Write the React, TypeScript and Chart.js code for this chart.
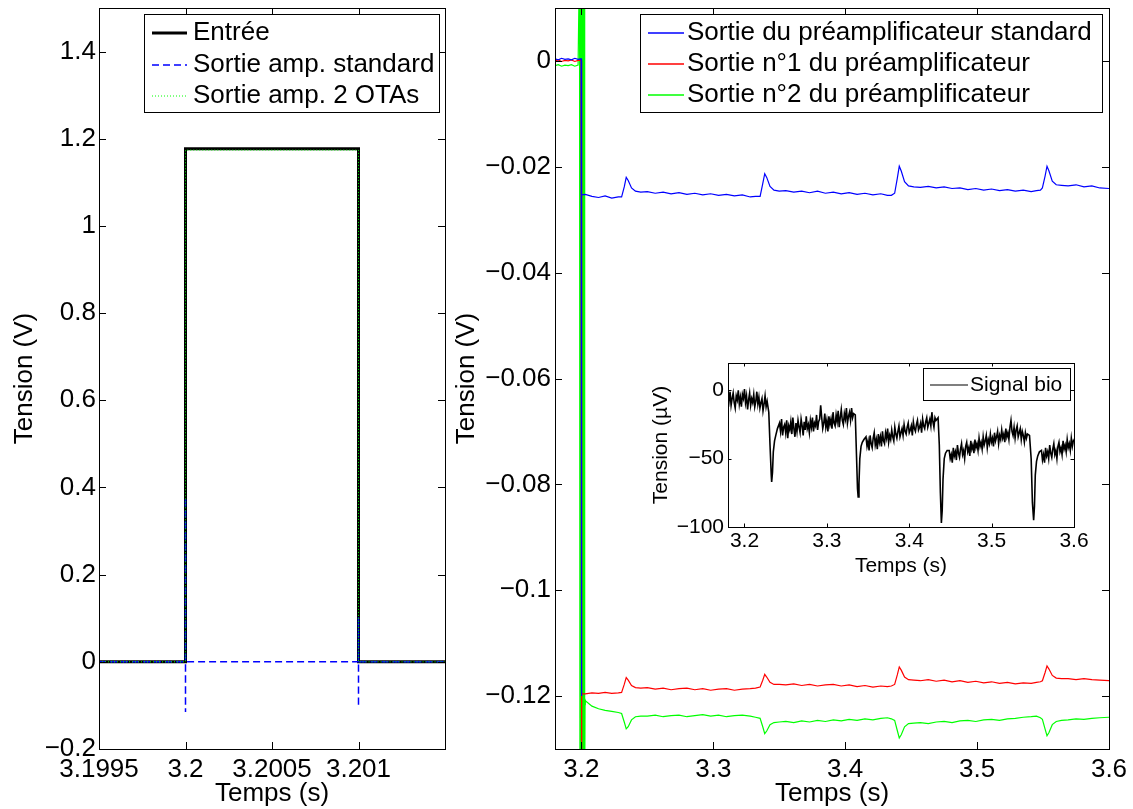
import React, { useEffect, useRef } from "react";
import { Chart, registerables } from "chart.js";

Chart.register(...registerables);

const FONT = "'Liberation Sans', Arial, Helvetica, sans-serif";

// ---------------- Left plot: step input ----------------
const leftXTicks = [3.1995, 3.2, 3.2005, 3.201, 3.2015];
const leftXLabels = ["3.1995", "3.2", "3.2005", "3.201", ""];
const leftYTicks = [-0.2, 0, 0.2, 0.4, 0.6, 0.8, 1, 1.2, 1.4];
const leftYLabels = ["−0.2", "0", "0.2", "0.4", "0.6", "0.8", "1", "1.2", "1.4"];

const entreeT = [3.1995, 3.2, 3.2, 3.201, 3.201, 3.2015];
const entreeV = [0, 0, 1.177, 1.177, 0, 0];
const stdT = [3.1995, 3.2, 3.2, 3.2, 3.2, 3.201, 3.201, 3.201, 3.201, 3.2015];
const stdV = [0, 0, 0.377, -0.115, 0, 0, 0.103, -0.103, 0, 0];
const otaT = [3.1995, 3.2, 3.2, 3.201, 3.201, 3.2015];
const otaV = [0, 0, 1.174, 1.174, 0, 0];

// ---------------- Right plot: preamp outputs ----------------
const rightXTicks = [3.2, 3.3, 3.4, 3.5, 3.6];
const rightXLabels = ["3.2", "3.3", "3.4", "3.5", "3.6"];
const rightYTicks = [-0.12, -0.1, -0.08, -0.06, -0.04, -0.02, 0];
const rightYLabels = ["−0.12", "−0.1", "−0.08", "−0.06", "−0.04", "−0.02", "0"];

const tPre = [3.18, 3.1825, 3.185, 3.1875, 3.19, 3.1925, 3.195, 3.1975];
const bluePre = [0.0004, 0.0002, 0.0005, 0.0003, 0.0004, 0.0002, 0.0005, 0.0003];
const redPre = [0.0, 0.0002, -0.0001, 0.0001, 0.0, 0.0002, -0.0001, 0.0001];
const greenPre = [-0.0009, -0.0007, -0.001, -0.0008, -0.0009, -0.0007, -0.001, -0.0008];

const tBlueJump = [3.1998, 3.2, 3.2003];
const blueJump = [0.0004, -0.12, -0.0253];
const tRedJump = [3.1998, 3.2001, 3.2004];
const redJump = [0.0001, -0.14, -0.1196];
const tGreenJump = [3.1986, 3.1989, 3.1992, 3.1995, 3.1998, 3.2001, 3.2004, 3.2007, 3.201, 3.2013, 3.2016, 3.2019, 3.2022, 3.2025, 3.2028];
const greenJump = [0.02, -0.14, 0.02, -0.14, 0.02, -0.14, 0.02, -0.14, 0.02, -0.14, 0.02, -0.14, 0.02, -0.14, -0.1207];

const tPost = [
  3.203, 3.208, 3.213, 3.218, 3.223, 3.228,
  3.2305, 3.2325, 3.234, 3.2355, 3.238, 3.241, 3.245,
  3.25, 3.256, 3.262, 3.268, 3.274, 3.28, 3.286, 3.292, 3.298, 3.304, 3.31, 3.316, 3.322, 3.328, 3.332,
  3.3355, 3.3375, 3.339, 3.3405, 3.343, 3.346, 3.35,
  3.355, 3.361, 3.367, 3.373, 3.379, 3.385, 3.391, 3.397, 3.403, 3.409, 3.415, 3.421, 3.427, 3.432, 3.435,
  3.4375, 3.4395, 3.441, 3.4425, 3.445, 3.448, 3.452,
  3.457, 3.463, 3.469, 3.475, 3.481, 3.487, 3.493, 3.499, 3.505, 3.511, 3.517, 3.523, 3.529, 3.535, 3.541, 3.545, 3.548,
  3.5495, 3.5515, 3.553, 3.5545, 3.557, 3.56, 3.564,
  3.569, 3.575, 3.581, 3.587, 3.593, 3.6,
];
const bluePost = [
  -0.0252, -0.0256, -0.0258, -0.0255, -0.0259, -0.0257,
  -0.0257, -0.0238, -0.022, -0.0226, -0.024, -0.0246, -0.0248,
  -0.0247, -0.025, -0.0248, -0.0251, -0.0249, -0.0252, -0.025, -0.0253, -0.0251, -0.0254, -0.0252, -0.0255, -0.0253, -0.0257, -0.0256,
  -0.0256, -0.0232, -0.0213, -0.022, -0.0237, -0.0244, -0.0246,
  -0.0245, -0.0248, -0.0246, -0.0249, -0.0246, -0.025, -0.0248, -0.0251, -0.0249, -0.0252, -0.025, -0.0253, -0.0251, -0.0254, -0.0254,
  -0.025, -0.0222, -0.0199, -0.0208, -0.0228, -0.0236, -0.0238,
  -0.0239, -0.0237, -0.024, -0.0238, -0.0241, -0.024, -0.0243, -0.0241, -0.0244, -0.0242, -0.0245, -0.0243, -0.0246, -0.0244, -0.0247, -0.0245, -0.0244,
  -0.024, -0.0218, -0.0199, -0.0208, -0.0227, -0.0234, -0.0235,
  -0.0236, -0.0234, -0.0238, -0.0236, -0.024, -0.0241,
];
const redPost = [
  -0.1196, -0.1194, -0.1195, -0.1193, -0.1195, -0.1194,
  -0.1193, -0.1178, -0.1165, -0.117, -0.118, -0.1184, -0.1185,
  -0.1184, -0.1187, -0.1185, -0.1188, -0.1186, -0.1185, -0.1188, -0.1186, -0.1189, -0.1187, -0.1186, -0.1189, -0.1187, -0.1186, -0.1185,
  -0.1183, -0.117, -0.1159, -0.1164, -0.1174, -0.1178, -0.1178,
  -0.1179, -0.1177, -0.118, -0.1178, -0.1181, -0.1179, -0.1178, -0.1181, -0.1179, -0.1182, -0.118, -0.1183, -0.1181, -0.1182, -0.1181,
  -0.1178, -0.116, -0.1145, -0.1151, -0.1164, -0.1169, -0.117,
  -0.1171, -0.1169, -0.1172, -0.117, -0.1173, -0.1171, -0.1174, -0.1172, -0.1175, -0.1173, -0.1176, -0.1174, -0.1177, -0.1175, -0.1176, -0.1174, -0.1173,
  -0.1171, -0.1156, -0.1143, -0.1149, -0.1161, -0.1166, -0.1167,
  -0.1167, -0.1169, -0.1167, -0.1169, -0.117, -0.1171,
];
const greenPost = [
  -0.1209, -0.1219, -0.1224, -0.1227, -0.1229, -0.1231,
  -0.1233, -0.1249, -0.1262, -0.1258, -0.1245, -0.1239, -0.1238,
  -0.1238, -0.1236, -0.1239, -0.1237, -0.1236, -0.1239, -0.1237, -0.1235, -0.1238, -0.1236, -0.1239, -0.1237, -0.1236, -0.1238, -0.124,
  -0.1242, -0.1258, -0.1271, -0.1266, -0.1254, -0.125, -0.1249,
  -0.1248, -0.125, -0.1247, -0.1249, -0.1246, -0.1248, -0.1245, -0.1247, -0.1244, -0.1246, -0.1243, -0.1245, -0.1242, -0.1241, -0.1243,
  -0.1246, -0.1265, -0.1279, -0.1273, -0.1258, -0.1252, -0.1251,
  -0.125, -0.1252, -0.1249, -0.1248, -0.125, -0.1247, -0.1246, -0.1248, -0.1245, -0.1244, -0.1246, -0.1243, -0.1242, -0.124, -0.1239, -0.1238, -0.1241,
  -0.1244, -0.1262, -0.1275, -0.1269, -0.1254, -0.1248, -0.1246,
  -0.1245, -0.1243, -0.1244, -0.1242, -0.1241, -0.124,
];

// ---------------- Inset: biological signal (µV) ----------------
const insetYTicks = [-100, -50, 0];
const insetYLabels = ["−100", "−50", "0"];
const bioTime = [
  3.18, 3.18125, 3.1825, 3.18375, 3.185, 3.18625, 3.1875, 3.18875, 3.19, 3.19125, 3.1925, 3.19375, 3.195, 3.19625, 3.1975, 3.19875, 3.2, 3.20125, 3.2025, 3.20375,
  3.205, 3.20625, 3.2075, 3.20875, 3.21, 3.21125, 3.2125, 3.21375, 3.215, 3.21625, 3.2175, 3.21875, 3.22, 3.22125, 3.2225, 3.22375, 3.225, 3.22625, 3.2275,
  3.2295, 3.231, 3.2325, 3.233, 3.234, 3.235, 3.2365, 3.238, 3.24,
  3.2425, 3.24375, 3.245, 3.24625, 3.2475, 3.24875, 3.25, 3.25125, 3.2525, 3.25375, 3.255, 3.25625, 3.2575, 3.25875, 3.26, 3.26125, 3.2625, 3.26375, 3.265, 3.26625,
  3.2675, 3.26875, 3.27, 3.27125, 3.2725, 3.27375, 3.275, 3.27625, 3.2775, 3.27875, 3.28, 3.28125, 3.2825, 3.28375, 3.285, 3.28625, 3.2875, 3.28875, 3.29, 3.29125,
  3.2925, 3.29375, 3.295, 3.29625, 3.2975, 3.29875, 3.3, 3.30125, 3.3025, 3.30375, 3.305, 3.30625, 3.3075, 3.30875, 3.31, 3.31125, 3.3125, 3.31375, 3.315, 3.31625,
  3.3175, 3.31875, 3.32, 3.32125, 3.3225, 3.32375, 3.325, 3.32625, 3.3275, 3.32875, 3.33, 3.33125, 3.3325,
  3.3345, 3.336, 3.3372, 3.338, 3.339, 3.34, 3.3415, 3.343, 3.345,
  3.3475, 3.34875, 3.35, 3.35125, 3.3525, 3.35375, 3.355, 3.35625, 3.3575, 3.35875, 3.36, 3.36125, 3.3625, 3.36375, 3.365, 3.36625, 3.3675, 3.36875, 3.37, 3.37125,
  3.3725, 3.37375, 3.375, 3.37625, 3.3775, 3.37875, 3.38, 3.38125, 3.3825, 3.38375, 3.385, 3.38625, 3.3875, 3.38875, 3.39, 3.39125, 3.3925, 3.39375, 3.395, 3.39625,
  3.3975, 3.39875, 3.4, 3.40125, 3.4025, 3.40375, 3.405, 3.40625, 3.4075, 3.40875, 3.41, 3.41125, 3.4125, 3.41375, 3.415, 3.41625, 3.4175, 3.41875, 3.42, 3.42125,
  3.4225, 3.42375, 3.425, 3.42625, 3.4275, 3.42875, 3.43, 3.43125, 3.4325,
  3.435, 3.4365, 3.4378, 3.439, 3.44, 3.441, 3.4425, 3.444, 3.446,
  3.4485, 3.44975, 3.451, 3.45225, 3.4535, 3.45475, 3.456, 3.45725, 3.4585, 3.45975, 3.461, 3.46225, 3.4635, 3.46475, 3.466, 3.46725, 3.4685, 3.46975, 3.471, 3.47225,
  3.4735, 3.47475, 3.476, 3.47725, 3.4785, 3.47975, 3.481, 3.48225, 3.4835, 3.48475, 3.486, 3.48725, 3.4885, 3.48975, 3.491, 3.49225, 3.4935, 3.49475, 3.496, 3.49725,
  3.4985, 3.49975, 3.501, 3.50225, 3.5035, 3.50475, 3.506, 3.50725, 3.5085, 3.50975, 3.511, 3.51225, 3.5135, 3.51475, 3.516, 3.51725, 3.5185, 3.51975, 3.521, 3.52225,
  3.5235, 3.52475, 3.526, 3.52725, 3.5285, 3.52975, 3.531, 3.53225, 3.5335, 3.53475, 3.536, 3.53725, 3.5385, 3.53975, 3.541, 3.54225, 3.5435,
  3.546, 3.548, 3.5495, 3.551, 3.552, 3.553, 3.5545, 3.556, 3.558,
  3.5605, 3.56175, 3.563, 3.56425, 3.5655, 3.56675, 3.568, 3.56925, 3.5705, 3.57175, 3.573, 3.57425, 3.5755, 3.57675, 3.578, 3.57925, 3.5805, 3.58175, 3.583, 3.58425,
  3.5855, 3.58675, 3.588, 3.58925, 3.5905, 3.59175, 3.593, 3.59425, 3.5955, 3.59675, 3.598, 3.59925, 3.6,
];
const bioValue = [
  -3, -8, -1, -11, -6, -2, -9, -13, -4, -7, 0, -10, -5, -12, -3, -6, 1, -9, -4, -14,
  -7, -2, -11, -6, -9, -3, -12, -8, -1, -10, -5, -13, -9, -6, -15, -10, -4, -12, -8,
  -16, -40, -62, -67, -60, -45, -37, -33, -28,
  -24, -30, -21, -33, -27, -25, -31, -22, -35, -26, -29, -23, -32, -20, -28, -34, -24, -30, -22, -27,
  -31, -21, -26, -33, -23, -29, -19, -28, -25, -31, -22, -27, -20, -30, -24, -26, -18, -29, -23, -21,
  -11, -20, -28, -24, -17, -27, -22, -30, -19, -25, -21, -28, -16, -24, -26, -18, -23, -15, -27, -20,
  -14, -22, -25, -17, -21, -13, -24, -19, -16, -22, -13, -20, -17,
  -18, -48, -72, -78, -68, -50, -41, -38, -36,
  -34, -41, -37, -44, -33, -39, -42, -35, -31, -40, -36, -43, -32, -38, -34, -41, -30, -37, -39, -31,
  -35, -28, -38, -33, -36, -29, -34, -37, -27, -32, -35, -30, -26, -34, -31, -28, -33, -25, -30, -32,
  -27, -24, -31, -29, -26, -33, -23, -28, -30, -25, -22, -29, -27, -24, -31, -21, -26, -28, -23, -20,
  -27, -24, -21, -26, -16, -23, -27, -20, -22,
  -20, -40, -75, -97, -88, -65, -50, -46, -44,
  -44, -50, -47, -53, -42, -48, -45, -51, -40, -46, -49, -43, -39, -47, -44, -50, -41, -38, -45, -42,
  -48, -37, -43, -40, -46, -36, -42, -39, -44, -35, -41, -38, -43, -34, -40, -37, -33, -42, -36, -39,
  -32, -38, -35, -41, -31, -37, -34, -30, -39, -33, -36, -29, -35, -32, -38, -28, -34, -31, -36, -27,
  -22, -30, -33, -27, -35, -29, -26, -34, -31, -28, -36, -30, -33, -38, -31, -35, -32,
  -33, -50, -82, -95, -85, -62, -52, -48, -45,
  -44, -51, -47, -53, -42, -48, -45, -50, -40, -46, -49, -43, -39, -47, -44, -50, -41, -38, -45, -42,
  -47, -37, -43, -40, -45, -36, -42, -39, -44, -35, -41, -37, -38,
];

// ---------------- helpers ----------------
const pts = (ts: number[], vs: number[]) => ts.map((t, i) => ({ x: t, y: vs[i] }));

function axis(o: any) {
  const horiz = o.position === "bottom";
  return {
    type: "linear",
    position: o.position,
    min: o.min,
    max: o.max,
    afterBuildTicks: (s: any) => {
      s.ticks = o.ticks.map((v: number) => ({ value: v }));
    },
    afterFit: (s: any) => {
      if (horiz) s.height = o.size;
      else s.width = o.size;
      s.paddingTop = 0;
      s.paddingBottom = 0;
      s.paddingLeft = 0;
      s.paddingRight = 0;
    },
    grid: { display: false, drawTicks: false },
    border: { display: false },
    ticks: {
      font: { family: FONT, size: o.font },
      color: "#000",
      padding: o.pad,
      autoSkip: false,
      maxRotation: 0,
      minRotation: 0,
      callback: (_v: any, i: number) => o.labels[i],
    },
    title: {
      display: true,
      text: o.title,
      font: { family: FONT, size: o.font },
      color: "#000",
      padding: o.titlePad,
    },
  };
}

const matlabAxes = {
  id: "matlabAxes",
  beforeDraw(chart: any) {
    const a = chart.chartArea;
    const ctx = chart.ctx;
    ctx.save();
    ctx.fillStyle = "#fff";
    ctx.fillRect(a.left, a.top, a.right - a.left, a.bottom - a.top);
    ctx.restore();
  },
  afterDatasetsDraw(chart: any, _args: any, opts: any) {
    const { ctx, chartArea: a, scales } = chart;
    const L = opts.tickLen || 7;
    ctx.save();
    ctx.strokeStyle = "#000";
    ctx.lineWidth = 1;
    ctx.setLineDash([]);
    ctx.beginPath();
    const xs = scales.x;
    const ys = scales.y;
    for (const t of xs.ticks) {
      const px = Math.round(xs.getPixelForValue(t.value)) + 0.5;
      if (px < a.left + 2 || px > a.right - 2) continue;
      ctx.moveTo(px, a.bottom);
      ctx.lineTo(px, a.bottom - L);
      ctx.moveTo(px, a.top);
      ctx.lineTo(px, a.top + L);
    }
    for (const t of ys.ticks) {
      const py = Math.round(ys.getPixelForValue(t.value)) + 0.5;
      if (py < a.top + 2 || py > a.bottom - 2) continue;
      ctx.moveTo(a.left, py);
      ctx.lineTo(a.left + L, py);
      ctx.moveTo(a.right, py);
      ctx.lineTo(a.right - L, py);
    }
    ctx.stroke();
    ctx.strokeRect(
      Math.round(a.left) + 0.5,
      Math.round(a.top) + 0.5,
      Math.round(a.right - a.left),
      Math.round(a.bottom - a.top)
    );
    ctx.restore();
  },
};

const boxLegend = {
  id: "boxLegend",
  afterDraw(chart: any, _args: any, o: any) {
    if (!o || !o.box) return;
    const ctx = chart.ctx;
    const [bx, by, bw, bh] = o.box;
    ctx.save();
    ctx.fillStyle = "#fff";
    ctx.fillRect(bx, by, bw, bh);
    ctx.strokeStyle = "#000";
    ctx.lineWidth = 1;
    ctx.setLineDash([]);
    ctx.strokeRect(bx + 0.5, by + 0.5, bw, bh);
    ctx.font = `${o.size}px ${FONT}`;
    ctx.textBaseline = "middle";
    ctx.textAlign = "left";
    chart.data.datasets.forEach((ds: any, i: number) => {
      const y = o.rows[i];
      ctx.beginPath();
      ctx.strokeStyle = ds.borderColor;
      ctx.lineWidth = ds.legendWidth || ds.borderWidth;
      ctx.setLineDash(ds.borderDash || []);
      ctx.moveTo(o.sample[0], y);
      ctx.lineTo(o.sample[1], y);
      ctx.stroke();
      ctx.setLineDash([]);
      ctx.fillStyle = "#000";
      ctx.fillText(ds.label, o.textX, y);
    });
    ctx.restore();
  },
};

const lineBase = {
  pointRadius: 0,
  pointHoverRadius: 0,
  tension: 0,
  fill: false,
  borderCapStyle: "butt",
};

function baseOptions(layoutPad: any, scales: any, legend: any, tickLen: number) {
  return {
    animation: false,
    responsive: false,
    maintainAspectRatio: false,
    devicePixelRatio: 1,
    events: [],
    layout: { padding: layoutPad },
    scales,
    plugins: {
      legend: { display: false },
      tooltip: { enabled: false },
      title: { display: false },
      matlabAxes: { tickLen },
      boxLegend: legend,
    },
  };
}

export default function App() {
  const leftRef = useRef<HTMLCanvasElement>(null);
  const rightRef = useRef<HTMLCanvasElement>(null);
  const insetRef = useRef<HTMLCanvasElement>(null);

  useEffect(() => {
    const left = new Chart(leftRef.current as any, {
      type: "line",
      data: {
        datasets: [
          { ...lineBase, label: "Entrée", data: pts(entreeT, entreeV), borderColor: "#000000", borderWidth: 3, order: 2 },
          { ...lineBase, label: "Sortie amp. standard", data: pts(stdT, stdV), borderColor: "#0000ff", borderWidth: 1.5, borderDash: [7, 4], order: 1 },
          { ...lineBase, label: "Sortie amp. 2 OTAs", data: pts(otaT, otaV), borderColor: "#00ff00", borderWidth: 1, borderDash: [1, 2], order: 0 },
        ],
      } as any,
      options: baseOptions(
        { left: 0, right: 5, top: 8, bottom: 0 },
        {
          x: axis({ position: "bottom", min: 3.1995, max: 3.2015, ticks: leftXTicks, labels: leftXLabels, size: 60, font: 26, pad: 5, title: "Temps (s)", titlePad: { top: 0, bottom: 0 } }),
          y: axis({ position: "left", min: -0.2, max: 1.5, ticks: leftYTicks, labels: leftYLabels, size: 99, font: 26, pad: 3, title: "Tension (V)", titlePad: { top: 9, bottom: 0 } }),
        },
        { box: [144, 14, 295, 98], rows: [33, 65, 96], sample: [152, 187], textX: 193, size: 26 },
        7
      ) as any,
      plugins: [matlabAxes, boxLegend],
    });

    const right = new Chart(rightRef.current as any, {
      type: "line",
      data: {
        datasets: [
          { ...lineBase, label: "Sortie du préamplificateur standard", data: [...pts(tPre, bluePre), ...pts(tBlueJump, blueJump), ...pts(tPost, bluePost)], borderColor: "#0000ff", borderWidth: 1.2, legendWidth: 1.6 },
          { ...lineBase, label: "Sortie n°1 du préamplificateur", data: [...pts(tPre, redPre), ...pts(tRedJump, redJump), ...pts(tPost, redPost)], borderColor: "#ff0000", borderWidth: 1.2, legendWidth: 1.6 },
          { ...lineBase, label: "Sortie n°2 du préamplificateur", data: [...pts(tPre, greenPre), ...pts(tGreenJump, greenJump), ...pts(tPost, greenPost)], borderColor: "#00ff00", borderWidth: 1.2, legendWidth: 1.6 },
        ],
      } as any,
      options: baseOptions(
        { left: 0, right: 24, top: 8, bottom: 0 },
        {
          x: axis({ position: "bottom", min: 3.18, max: 3.6, ticks: rightXTicks, labels: rightXLabels, size: 60, font: 26, pad: 5, title: "Temps (s)", titlePad: { top: 0, bottom: 0 } }),
          y: axis({ position: "left", min: -0.13, max: 0.01, ticks: rightYTicks, labels: rightYLabels, size: 110, font: 26, pad: 4, title: "Tension (V)", titlePad: { top: 6, bottom: 0 } }),
        },
        { box: [195, 14, 462, 98], rows: [33, 64, 95], sample: [203, 239], textX: 242, size: 26 },
        7
      ) as any,
      plugins: [matlabAxes, boxLegend],
    });

    const inset = new Chart(insetRef.current as any, {
      type: "line",
      data: {
        datasets: [
          { ...lineBase, label: "Signal bio", data: pts(bioTime, bioValue), borderColor: "#000000", borderWidth: 1.6, legendWidth: 1.2 },
        ],
      } as any,
      options: baseOptions(
        { left: 0, right: 16, top: 23, bottom: 0 },
        {
          x: axis({ position: "bottom", min: 3.18, max: 3.6, ticks: rightXTicks, labels: rightXLabels, size: 63, font: 21, pad: 2, title: "Temps (s)", titlePad: { top: 0, bottom: 11 } }),
          y: axis({ position: "left", min: -100, max: 20, ticks: insetYTicks, labels: insetYLabels, size: 88, font: 21, pad: 4, title: "Tension (µV)", titlePad: { top: 9, bottom: 0 } }),
        },
        { box: [283, 28, 147, 32], rows: [45], sample: [290, 328], textX: 330, size: 21 },
        3.5
      ) as any,
      plugins: [matlabAxes, boxLegend],
    });

    return () => {
      left.destroy();
      right.destroy();
      inset.destroy();
    };
  }, []);

  return (
    <div style={{ position: "absolute", left: 0, top: 0, width: 1133, height: 809, background: "#fff", overflow: "hidden" }}>
      <canvas ref={leftRef} width={450} height={809} style={{ position: "absolute", left: 0, top: 0, width: 450, height: 809 }} />
      <canvas ref={rightRef} width={688} height={809} style={{ position: "absolute", left: 445, top: 0, width: 688, height: 809 }} />
      <canvas ref={insetRef} width={450} height={250} style={{ position: "absolute", left: 640, top: 340, width: 450, height: 250 }} />
    </div>
  );
}
